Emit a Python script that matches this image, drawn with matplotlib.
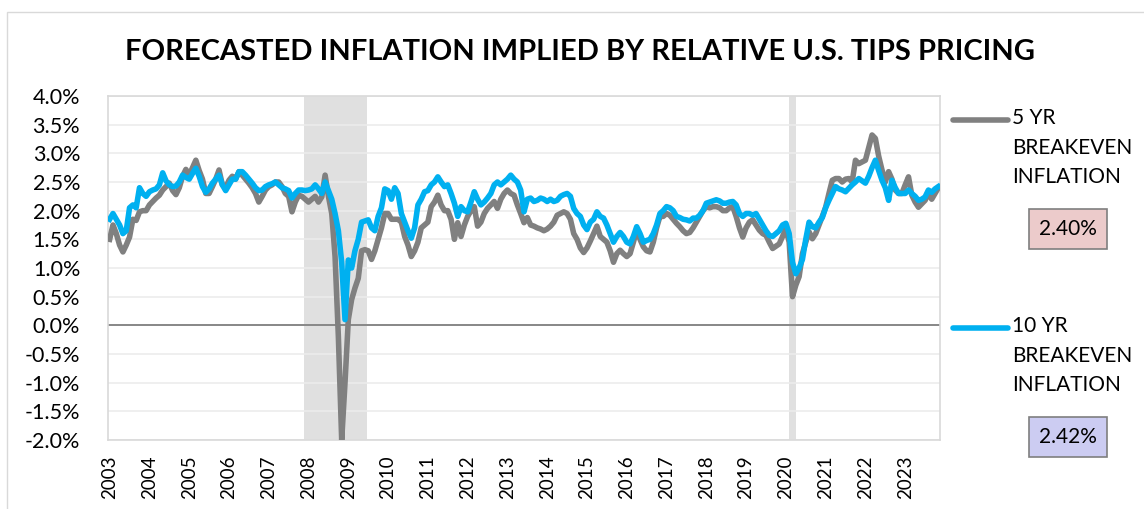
import numpy as np
import matplotlib
matplotlib.use("Agg")
import matplotlib.pyplot as plt
from matplotlib.patches import Rectangle

plt.rcParams['font.family'] = ['Lato', 'DejaVu Sans']

# monthly readings, Jan 2003 .. Nov 2023 (in %)
be5 = [
    1.5, 1.75, 1.6, 1.4, 1.28, 1.4, 1.54, 1.85, 1.83, 1.98, 2.0, 2.0,          # 2003
    2.1, 2.16, 2.22, 2.27, 2.36, 2.42, 2.48, 2.35, 2.28, 2.4, 2.6, 2.72,       # 2004
    2.62, 2.75, 2.88, 2.7, 2.55, 2.3, 2.3, 2.42, 2.55, 2.71, 2.45, 2.4,        # 2005
    2.53, 2.6, 2.55, 2.68, 2.62, 2.55, 2.48, 2.4, 2.3, 2.15, 2.25, 2.36,       # 2006
    2.42, 2.45, 2.5, 2.5, 2.42, 2.3, 2.25, 1.98, 2.15, 2.27, 2.25, 2.2,        # 2007
    2.15, 2.2, 2.25, 2.15, 2.24, 2.62, 2.25, 1.95, 1.2, -0.2, -2.0, -1.0,      # 2008
    0.1, 0.45, 0.65, 0.82, 1.3, 1.32, 1.3, 1.15, 1.3, 1.5, 1.7, 1.95,          # 2009
    1.95, 1.85, 1.85, 1.85, 1.8, 1.55, 1.4, 1.2, 1.3, 1.45, 1.7, 1.75,         # 2010
    1.8, 2.07, 2.15, 2.27, 2.1, 2.0, 2.0, 1.85, 1.5, 1.79, 1.55, 1.75,         # 2011
    1.9, 2.0, 2.07, 1.73, 1.8, 1.95, 2.04, 2.1, 2.16, 2.04, 2.2, 2.3,          # 2012
    2.36, 2.3, 2.27, 2.1, 1.95, 1.79, 1.88, 1.75, 1.73, 1.7, 1.68, 1.65,       # 2013
    1.68, 1.73, 1.8, 1.92, 1.95, 1.98, 1.95, 1.85, 1.6, 1.5, 1.35, 1.27,       # 2014
    1.35, 1.47, 1.6, 1.73, 1.55, 1.5, 1.45, 1.3, 1.1, 1.25, 1.31, 1.25,        # 2015
    1.2, 1.25, 1.45, 1.66, 1.5, 1.37, 1.3, 1.28, 1.45, 1.7, 1.9, 1.9,          # 2016
    1.95, 1.92, 1.85, 1.78, 1.72, 1.65, 1.6, 1.62, 1.7, 1.8, 1.9, 2.0,         # 2017
    2.07, 2.05, 2.07, 2.07, 2.05, 2.0, 2.0, 2.05, 2.07, 1.9, 1.7, 1.54,        # 2018
    1.7, 1.8, 1.84, 1.75, 1.66, 1.6, 1.57, 1.45, 1.34, 1.38, 1.42, 1.55,       # 2019
    1.69, 1.45, 0.5, 0.7, 0.85, 1.25, 1.45, 1.63, 1.51, 1.6, 1.75, 1.9,        # 2020
    2.06, 2.3, 2.53, 2.56, 2.56, 2.5, 2.55, 2.56, 2.5, 2.88, 2.82, 2.85,       # 2021
    2.88, 3.1, 3.32, 3.26, 2.95, 2.71, 2.5, 2.68, 2.55, 2.36, 2.3, 2.3,        # 2022
    2.45, 2.59, 2.27, 2.15, 2.06, 2.12, 2.18, 2.3, 2.2, 2.3, 2.40,             # 2023
]
be10 = [
    1.85, 1.95, 1.85, 1.75, 1.6, 1.65, 2.05, 2.1, 2.05, 2.4, 2.3, 2.25,        # 2003
    2.33, 2.36, 2.38, 2.45, 2.66, 2.52, 2.45, 2.42, 2.43, 2.5, 2.62, 2.58,     # 2004
    2.55, 2.65, 2.74, 2.6, 2.42, 2.32, 2.38, 2.48, 2.55, 2.62, 2.45, 2.35,     # 2005
    2.45, 2.55, 2.55, 2.68, 2.68, 2.62, 2.55, 2.48, 2.4, 2.35, 2.36, 2.42,     # 2006
    2.45, 2.47, 2.5, 2.45, 2.4, 2.38, 2.35, 2.22, 2.3, 2.36, 2.36, 2.35,       # 2007
    2.36, 2.38, 2.45, 2.38, 2.3, 2.5, 2.35, 2.2, 1.95, 1.65, 1.1, 0.1,         # 2008
    1.14, 1.0, 1.3, 1.5, 1.8, 1.82, 1.84, 1.7, 1.65, 1.9, 2.05, 2.38,          # 2009
    2.35, 2.2, 2.4, 2.3, 1.95, 1.8, 1.65, 1.52, 1.7, 2.1, 2.2, 2.33,           # 2010
    2.35, 2.45, 2.5, 2.59, 2.5, 2.42, 2.45, 2.3, 2.13, 1.9, 2.07, 2.0,         # 2011
    1.98, 2.15, 2.33, 2.2, 2.1, 2.15, 2.22, 2.3, 2.45, 2.5, 2.45, 2.5,         # 2012
    2.55, 2.62, 2.55, 2.5, 2.36, 1.98, 2.2, 2.22, 2.16, 2.18, 2.22, 2.2,       # 2013
    2.16, 2.2, 2.16, 2.18, 2.25, 2.28, 2.3, 2.25, 2.04, 1.95, 1.9, 1.75,       # 2014
    1.67, 1.8, 1.85, 1.98, 1.9, 1.87, 1.75, 1.6, 1.45, 1.55, 1.62, 1.55,       # 2015
    1.45, 1.42, 1.55, 1.72, 1.6, 1.45, 1.48, 1.5, 1.6, 1.75, 1.95, 2.0,        # 2016
    2.07, 2.05, 2.0, 1.9, 1.88, 1.85, 1.84, 1.82, 1.87, 1.87, 1.92, 2.0,       # 2017
    2.13, 2.15, 2.17, 2.19, 2.17, 2.13, 2.13, 2.15, 2.16, 2.1, 1.95, 1.9,      # 2018
    1.95, 1.95, 1.92, 1.95, 1.85, 1.75, 1.65, 1.57, 1.55, 1.6, 1.65, 1.75,     # 2019
    1.78, 1.6, 1.1, 0.9, 1.0, 1.15, 1.5, 1.8, 1.72, 1.7, 1.8, 1.88,            # 2020
    2.05, 2.18, 2.3, 2.42, 2.38, 2.36, 2.33, 2.39, 2.45, 2.5, 2.56, 2.52,      # 2021
    2.48, 2.6, 2.75, 2.88, 2.7, 2.53, 2.4, 2.18, 2.53, 2.4, 2.3, 2.3,          # 2022
    2.3, 2.36, 2.3, 2.25, 2.18, 2.2, 2.24, 2.36, 2.32, 2.38, 2.42,             # 2023
]
years = list(range(2003, 2024))
recessions = [(2007 + 11 / 12, 2009.5), (2020.125, 2020.29)]
labels = ["5 YR\nBREAKEVEN\nINFLATION", "10 YR\nBREAKEVEN\nINFLATION"]
latest = ["2.40%", "2.42%"]

gray = "#808080"
blue = "#00b0f0"

n = len(be5)
t = 2003 + (np.arange(n) + 0.5) / 12

fig = plt.figure(figsize=(11.44, 5.09), dpi=100)
fig.patches.append(Rectangle((7 / 1144, -0.05), 1.2, 1 - 12 / 509 + 0.05,
                             transform=fig.transFigure, fill=False,
                             edgecolor="#d9d9d9", lw=1))
ax = fig.add_axes([108 / 1144, 1 - 440 / 509, 832 / 1144, 344 / 509])

for a, b in recessions:
    ax.axvspan(a, b, color="#e0e0e0", lw=0, zorder=0)

ax.set_ylim(-2.0, 4.0)
ax.set_xlim(2003, 2003 + n / 12)
ax.set_yticks(np.arange(-2.0, 4.01, 0.5))
ax.set_yticklabels([f"{v:.1f}%" for v in np.arange(-2.0, 4.01, 0.5)])
ax.grid(axis="y", color="#ececec", lw=1.2, zorder=1)
ax.axhline(0, color="#808080", lw=1.3, zorder=2)

ax.plot(t, be5, color=gray, lw=4, solid_joinstyle="round", zorder=3)
ax.plot(t, be10, color=blue, lw=4, solid_joinstyle="round", zorder=4)

ax.set_xticks([y + 0.5 / 12 for y in years])
ax.set_xticklabels([str(y) for y in years], rotation=90, fontsize=13.5)
ax.tick_params(axis="y", labelsize=15.5, length=0, pad=20)
ax.tick_params(axis="x", length=0, pad=11)
for s in ax.spines.values():
    s.set_color("#d9d9d9")
    s.set_linewidth(1.2)

fig.text(0.507, 1 - 52 / 509, "FORECASTED INFLATION IMPLIED BY RELATIVE U.S. TIPS PRICING",
         ha="center", va="center", fontsize=21, fontweight="bold")

# right-side legend
fills = ["#eccbcb", "#ccccf2"]
colors = [gray, blue]
ys = [120, 328]
for lab, val, fc, c, y in zip(labels, latest, fills, colors, ys):
    fy = 1 - y / 509
    fig.add_artist(plt.Line2D([953 / 1144, 1008 / 1144], [fy, fy], color=c, lw=4,
                              solid_capstyle="round", transform=fig.transFigure))
    fig.text(1012 / 1144, fy + 12 / 509, lab, ha="left", va="top", fontsize=15,
             linespacing=1.6)
    by = 1 - (y + 109) / 509
    fig.text(1068 / 1144, by, val, ha="center", va="center", fontsize=15,
             bbox=dict(boxstyle="square,pad=0.5", fc=fc, ec="#7f7f7f", lw=1.2))

fig.savefig("out.png", dpi=100)
